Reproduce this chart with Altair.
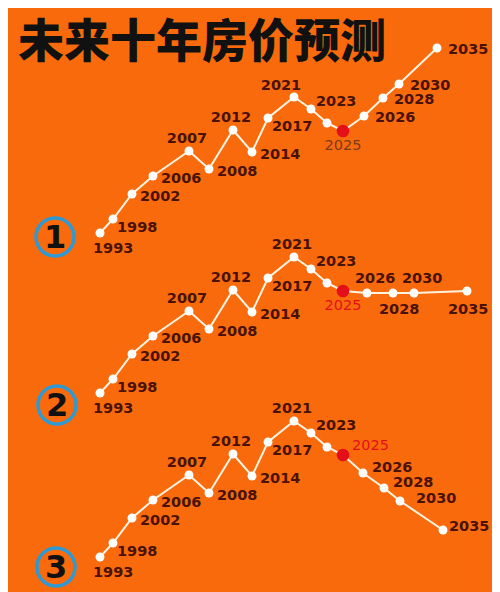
import altair as alt
import pandas as pd

TITLE = "未来十年房价预测"
MARKERS = ["1", "2", "3"]

# historical part (shared by all three scenarios)
hist_years = [1993, 1998, 2002, 2006, 2007, 2008, 2012, 2014, 2017, 2021, 2023, 2024, 2025]
hist_pos = [92, 105, 124, 145, 181, 201, 225, 244, 260, 286, 303, 319, 335]
hist_val = [15, 29, 54, 72, 97, 79, 118, 96, 130, 151, 139, 125, 117]

# forecasts
fc_years = [2026, 2028, 2030, 2035]
s1_pos = [356, 375, 391, 429]
s1_val = [132, 150, 164, 200]
s2_pos = [359, 385, 406, 459]
s2_val = [115, 115, 115, 117]
s3_pos = [355, 376, 392, 435]
s3_val = [99, 84, 71, 42]

# label placement codes
hist_place = [
    ["bl", "br", "r", "r", "a", "r", "a", "r", "br", "aL", "ur", "", "b"],
    ["bl", "br", "r", "r", "a", "r", "a", "r", "br", "a", "ur", "", "b"],
    ["bl", "br", "r", "r", "a", "r", "a", "r", "br", "a", "ur", "", "ur2"],
]
fc_place = [
    ["R", "R", "R", "R"],
    ["aR", "bR", "aR", "bR2"],
    ["r3", "r3", "r4", "r5"],
]

PLACE = {
    "bl": ("left", -7, 16),
    "br": ("left", 4, 9),
    "r": ("left", 8, 3),
    "a": ("center", -2, -12),
    "aL": ("center", -13, -11),
    "ur": ("left", 5, -7),
    "ur2": ("left", 9, -9),
    "b": ("center", 0, 15),
    "R": ("left", 11, 2),
    "aR": ("left", -12, -14),
    "bR": ("left", -14, 17),
    "bR2": ("left", -19, 19),
    "r3": ("left", 9, -5),
    "r4": ("left", 16, -2),
    "r5": ("left", 6, -3),
}

W = 484
HEIGHTS = [240, 160, 164]
MARKER_POS = [(47, 229), (49, 157), (48, 159)]
BG = "#f96a0d"
LABEL_COLOR = "#4a1204"
FONT = "DejaVu Sans"
LABEL_SIZE = 14.5


def panel(i, pos, val, label2025_color, label2025_weight, with_title=False):
    years = hist_years + fc_years
    df = pd.DataFrame({
        "year": years,
        "x": hist_pos + pos,
        "v": hist_val + val,
        "place": hist_place[i] + fc_place[i],
    })
    df["label"] = df["year"].astype(str)
    h = HEIGHTS[i]
    base = alt.Chart(df)
    X = alt.X("x:Q", scale=alt.Scale(domain=[0, W], nice=False, zero=False), axis=None)
    Y = alt.Y("v:Q", scale=alt.Scale(domain=[0, h], nice=False, zero=False), axis=None)

    layers = []
    layers.append(base.mark_line(color="#fff4e2", strokeWidth=2).encode(x=X, y=Y))
    layers.append(base.mark_circle(color="#ffffff", size=80, opacity=1).encode(x=X, y=Y))
    layers.append(
        base.transform_filter("datum.year == 2025")
        .mark_circle(color="#e3101a", size=160, opacity=1)
        .encode(x=X, y=Y)
    )
    for code, (align, dx, dy) in PLACE.items():
        layers.append(
            base.transform_filter(f"datum.place == '{code}' && datum.year != 2025")
            .mark_text(align=align, baseline="middle", dx=dx, dy=dy, font=FONT,
                       fontSize=LABEL_SIZE, fontWeight="bold", color=LABEL_COLOR)
            .encode(x=X, y=Y, text="label:N")
        )
        layers.append(
            base.transform_filter(f"datum.place == '{code}' && datum.year == 2025")
            .mark_text(align=align, baseline="middle", dx=dx, dy=dy, font=FONT,
                       fontSize=LABEL_SIZE, fontWeight=label2025_weight, color=label2025_color)
            .encode(x=X, y=Y, text="label:N")
        )

    mx, my = MARKER_POS[i]
    mdf = pd.DataFrame({"m": [MARKERS[i]]})
    layers.append(
        alt.Chart(mdf).mark_point(shape="circle", size=1450, filled=False,
                                  stroke="#2e9ad4", strokeWidth=3.5, opacity=1)
        .encode(x=alt.value(mx), y=alt.value(my))
    )
    layers.append(
        alt.Chart(mdf).mark_text(font="DejaVu Sans", fontSize=32, fontWeight="bold",
                                 color="#111111", align="center", baseline="middle")
        .encode(x=alt.value(mx), y=alt.value(my + 1), text="m:N")
    )
    if with_title:
        tdf = pd.DataFrame({"t": [TITLE]})
        layers.append(
            alt.Chart(tdf).mark_text(font="Noto Sans CJK SC", fontSize=46, fontWeight=900,
                                     color="#111111", align="left", baseline="middle")
            .encode(x=alt.value(10), y=alt.value(35), text="t:N")
        )
    return alt.layer(*layers).properties(width=W, height=h)


p1 = panel(0, s1_pos, s1_val, "#7d3a1a", "normal", with_title=True)
p2 = panel(1, s2_pos, s2_val, "#e3101a", "normal")
p3 = panel(2, s3_pos, s3_val, "#e3101a", "normal")

chart = (
    alt.vconcat(p1, p2, p3, spacing=0, bounds="flush")
    .resolve_scale(x="independent", y="independent")
    .properties(padding=0, background=BG)
    .configure_view(stroke=None)
    .configure_concat(spacing=0)
)

chart.save("out.html", embed_options={"renderer": "svg", "actions": False})
